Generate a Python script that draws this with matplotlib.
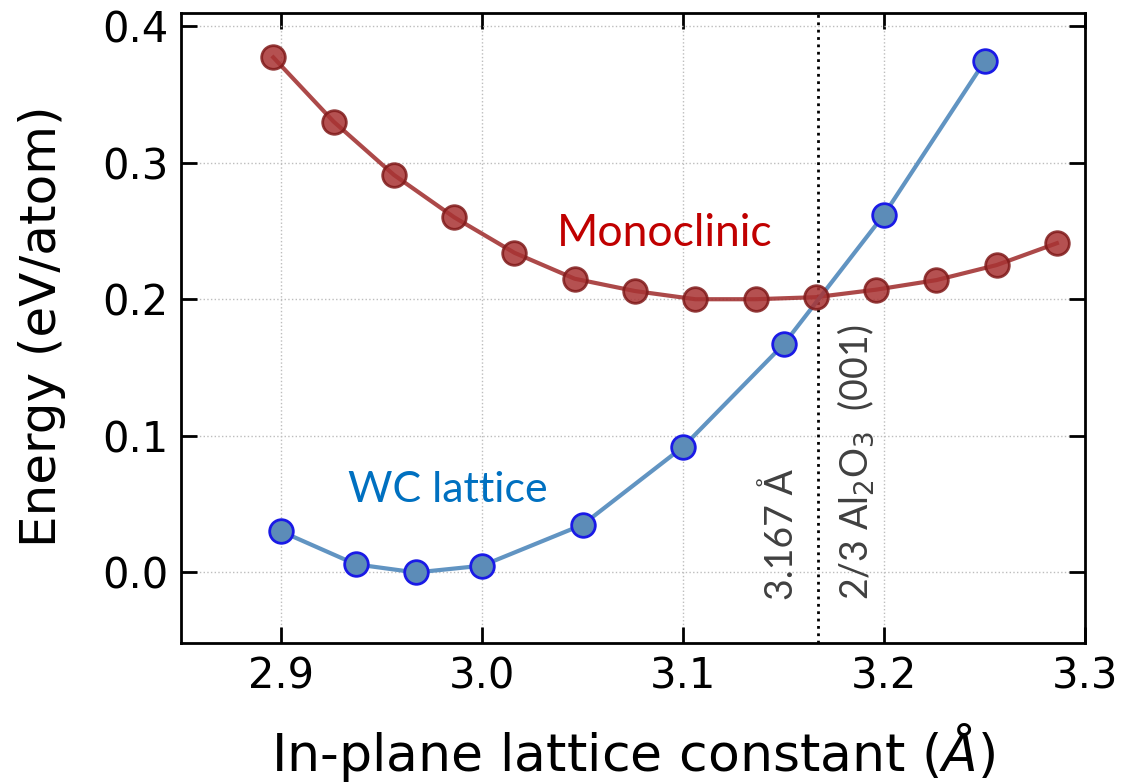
import matplotlib
matplotlib.use("Agg")
import matplotlib.pyplot as plt

# Data
wc_x = [2.900, 2.937, 2.967, 3.000, 3.050, 3.100, 3.150, 3.200, 3.250]
wc_y = [0.030, 0.006, 0.000, 0.005, 0.035, 0.092, 0.167, 0.262, 0.374]

mono_x = [2.896, 2.926, 2.956, 2.986, 3.016, 3.046, 3.076, 3.106, 3.136,
          3.166, 3.196, 3.226, 3.256, 3.286]
mono_y = [0.377, 0.330, 0.291, 0.260, 0.234, 0.215, 0.206, 0.200, 0.200,
          0.2015, 0.207, 0.214, 0.225, 0.241]

x_ticks = [2.9, 3.0, 3.1, 3.2, 3.3]
x_ticklabels = ["2.9", "3.0", "3.1", "3.2", "3.3"]
y_ticks = [0.0, 0.1, 0.2, 0.3, 0.4]
y_ticklabels = ["0.0", "0.1", "0.2", "0.3", "0.4"]
substrate_a = 3.167

fig = plt.figure(figsize=(11.45, 7.83), dpi=100)
ax = fig.add_axes([0.158, 0.179, 0.7896, 0.8044])

ax.plot(mono_x, mono_y, '-', color=(0.62, 0.16, 0.16), lw=3, alpha=0.85, zorder=3)
ax.plot(mono_x, mono_y, 'o', ms=17, mfc=(0.66, 0.2, 0.2), mec=(0.5, 0.1, 0.1),
        mew=2, alpha=0.85, zorder=4, ls='none')

ax.plot(wc_x, wc_y, '-', color=(0.38, 0.58, 0.76), lw=3, zorder=3)
ax.plot(wc_x, wc_y, 'o', ms=17, mfc=(0.36, 0.55, 0.72), mec=(0.1, 0.1, 0.9),
        mew=2, zorder=5, ls='none')

ax.axvline(substrate_a, color='black', ls=':', lw=2, zorder=2)

ax.set_xlim(2.85, 3.3)
ax.set_ylim(-0.0515, 0.4095)
ax.set_xticks(x_ticks)
ax.set_xticklabels(x_ticklabels)
ax.set_yticks(y_ticks)
ax.set_yticklabels(y_ticklabels)

ax.grid(True, ls=':', color='#bdbdbd', lw=1)
ax.tick_params(direction='in', length=11.5, width=2, top=True, right=True,
               labelsize=30, pad=9)
for s in ax.spines.values():
    s.set_linewidth(2)

ax.set_xlabel(r"In-plane lattice constant ($\AA$)", fontsize=37.5, labelpad=17)
ax.set_ylabel("Energy (eV/atom)", fontsize=36)
ax.yaxis.set_label_coords(-0.127, 0.502)

ax.text(3.037, 0.239, "Monoclinic", color='#C00000', fontsize=32,
        family='Lato', ha='left', va='baseline')
ax.text(2.933, 0.0515, "WC lattice", color='#0070C0', fontsize=31,
        family='Lato', ha='left', va='baseline')
ax.text(3.149, -0.02, "3.167 Å", rotation=90, color='#404040', fontsize=27,
        family='Lato', ha='center', va='bottom')
ax.text(3.186, -0.02, r"2/3 Al$_2$O$_3$  (001)", rotation=90, color='#404040',
        fontsize=27, family='Lato', ha='center', va='bottom')

fig.savefig("out.png", dpi=100)
